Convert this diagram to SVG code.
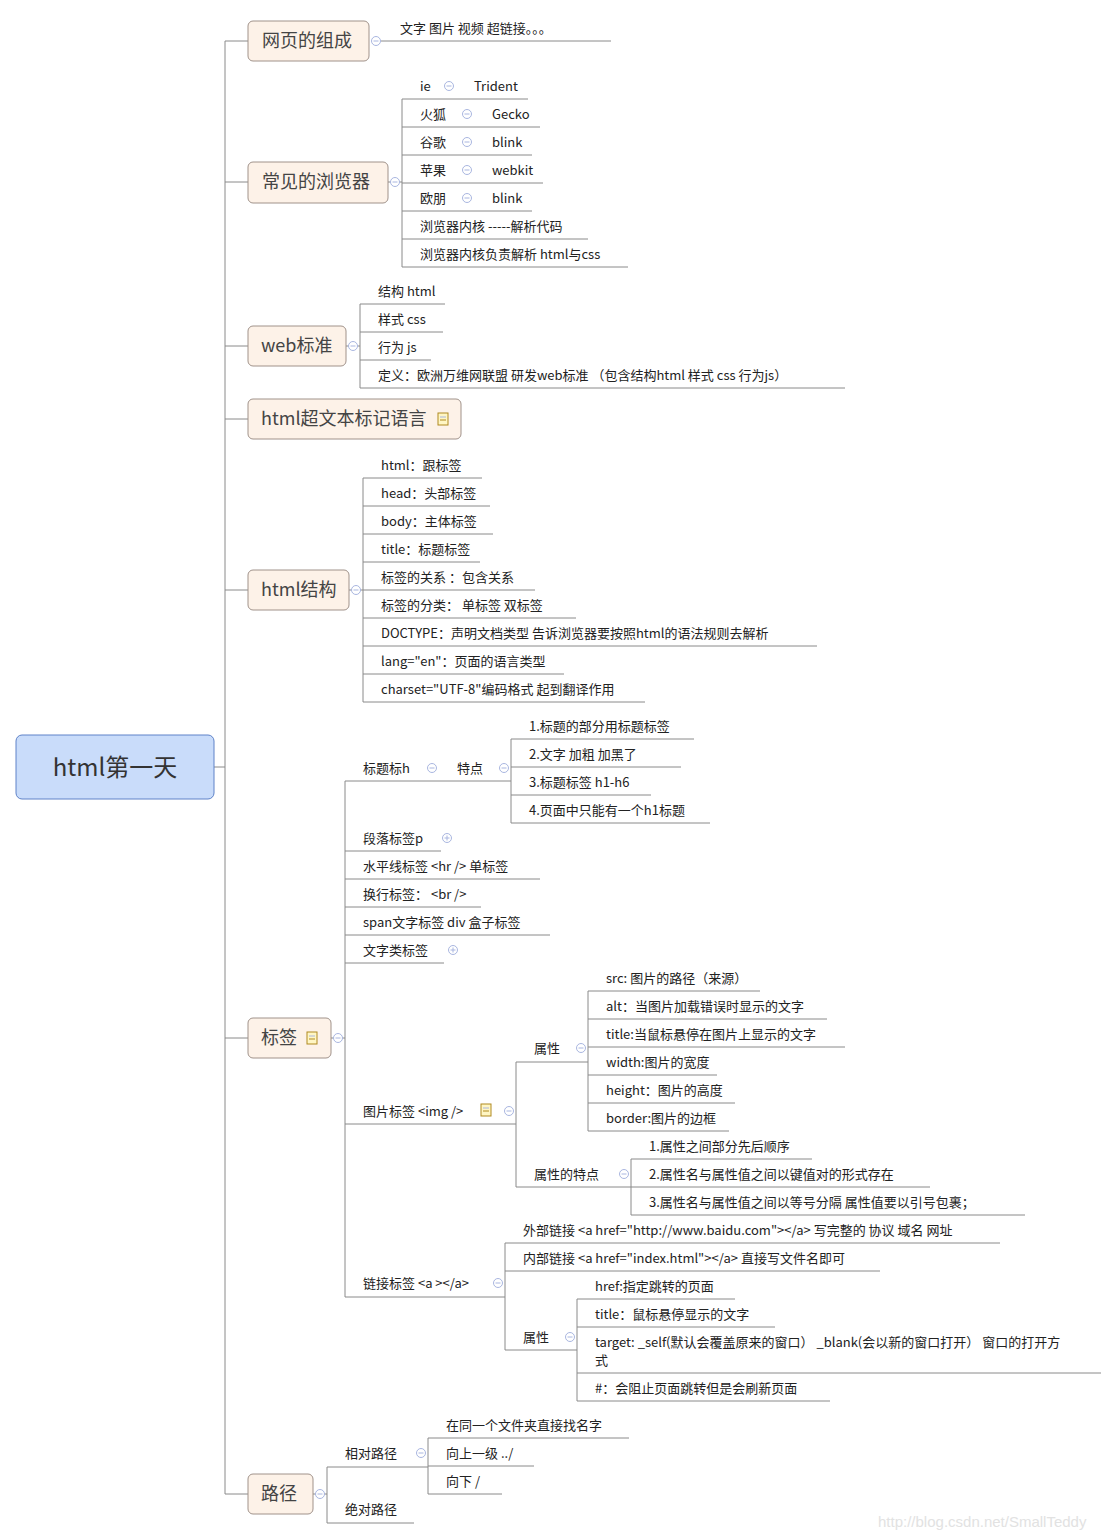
<svg xmlns="http://www.w3.org/2000/svg" width="1118" height="1538" viewBox="0 0 1118 1538">
<style>
text{font-family:"Noto Sans CJK SC","Liberation Sans",sans-serif;font-size:13px;fill:#222}
.m{font-size:18px;fill:#444}
.ln{stroke:#8a8a8a;stroke-width:1;fill:none}
.mn{fill:#fdf2e8;stroke:#a0928a;stroke-width:1}
.c{fill:#fff;stroke:#a9b6e0;stroke-width:1}
.cm{stroke:#a9b6e0;stroke-width:1}
.nt{fill:#fff6c4;stroke:#b08a20;stroke-width:1}
</style>
<defs>
<g id="col"><circle class="c" r="4.5"/><line class="cm" x1="-2.5" x2="2.5"/></g>
<g id="exp"><circle class="c" r="4.5"/><line class="cm" x1="-2.5" x2="2.5"/><line class="cm" y1="-2.5" y2="2.5"/></g>
<g id="note"><rect class="nt" x="-5" y="-6" width="10" height="12"/><line class="cm" x1="-3" x2="3" y1="-2" y2="-2" stroke="#b08a20"/><line x1="-3" x2="3" y1="1" y2="1" stroke="#b08a20"/></g>
</defs>
<g id="connectors" class="ln">
<path d="M214 767H225M225 41V1494M225 41H248M225 182H248M225 346H248M225 419H248M225 590H248M225 1038H248M225 1494H248"/>
<path d="M388 182H402M402 99V267"/>
<path d="M346 346H360M360 304V388"/>
<path d="M349 590H363M363 478V702"/>
<path d="M331 1038H345M345 781V1297"/>
<path d="M511 739V823"/>
<path d="M516 1062V1187M588 991V1131M631 1159V1215"/>
<path d="M505 1243V1350M577 1299V1401"/>
<path d="M313 1494H327M327 1467V1523M428 1438V1494"/>
</g>
<g id="root"><rect x="16" y="735" width="198" height="64" rx="6" fill="#c9dcfa" stroke="#5e82c8"/><text x="115" y="776" text-anchor="middle" style="font-size:24px;fill:#333">html第一天</text></g>
<g id="n1"><rect class="mn" x="248" y="21" width="121" height="40" rx="5"/><text class="m" x="262" y="47">网页的组成</text><use href="#col" x="376" y="41"/><path class="ln" d="M381 41H611"/><text x="400" y="33">文字   图片   视频   超链接。。。</text></g>
<g id="n2"><rect class="mn" x="248" y="162" width="140" height="41" rx="5"/><text class="m" x="262" y="188">常见的浏览器</text><use href="#col" x="395" y="182"/>
<path class="ln" d="M402 99H528M402 127H540M402 155H532M402 183H543M402 211H532M402 239H588M402 267H628"/>
<text x="420" y="91">ie</text><use href="#col" x="449" y="86"/><text x="474" y="91">Trident</text>
<text x="420" y="119">火狐</text><use href="#col" x="467" y="114"/><text x="492" y="119">Gecko</text>
<text x="420" y="147">谷歌</text><use href="#col" x="467" y="142"/><text x="492" y="147">blink</text>
<text x="420" y="175">苹果</text><use href="#col" x="467" y="170"/><text x="492" y="175">webkit</text>
<text x="420" y="203">欧朋</text><use href="#col" x="467" y="198"/><text x="492" y="203">blink</text>
<text x="420" y="231">浏览器内核  -----解析代码</text>
<text x="420" y="259">浏览器内核负责解析  html与css</text></g>
<g id="n3"><rect class="mn" x="248" y="326" width="98" height="40" rx="5"/><text class="m" x="261" y="352">web标准</text><use href="#col" x="353" y="346"/>
<path class="ln" d="M360 304H445M360 332H443M360 360H431M360 388H845"/>
<text x="378" y="296">结构  html</text><text x="378" y="324">样式  css</text><text x="378" y="352">行为  js</text><text x="378" y="380">定义：欧洲万维网联盟 研发web标准 （包含结构html  样式 css  行为js）</text></g>
<g id="n4"><rect class="mn" x="248" y="399" width="213" height="40" rx="5"/><text class="m" x="261" y="425">html超文本标记语言</text><use href="#note" x="443" y="419"/></g>
<g id="n5"><rect class="mn" x="248" y="570" width="101" height="40" rx="5"/><text class="m" x="261" y="596">html结构</text><use href="#col" x="356" y="590"/>
<path class="ln" d="M363 478H482M363 506H490M363 534H493M363 562H480M363 590H535M363 618H576M363 646H817M363 674H564M363 702H645"/>
<text x="381" y="470">html：跟标签</text><text x="381" y="498">head：头部标签</text><text x="381" y="526">body：主体标签</text><text x="381" y="554">title：标题标签</text><text x="381" y="582">标签的关系  ：包含关系</text><text x="381" y="610">标签的分类：  单标签   双标签</text><text x="381" y="638">DOCTYPE：声明文档类型   告诉浏览器要按照html的语法规则去解析</text><text x="381" y="666">lang="en"：页面的语言类型</text><text x="381" y="694">charset="UTF-8"编码格式    起到翻译作用</text></g>
<g id="n6"><rect class="mn" x="248" y="1018" width="83" height="40" rx="5"/><text class="m" x="261" y="1044">标签</text><use href="#note" x="312" y="1038"/><use href="#col" x="338" y="1038"/>
<path class="ln" d="M345 781H511M511 739H694M511 767H681M511 795H651M511 823H710M345 851H441M345 879H540M345 907H481M345 935H550M345 963H444M345 1124H516M516 1062H588M516 1187H631M588 991H760M588 1019H827M588 1047H845M588 1075H717M588 1103H735M588 1131H729M631 1159H812M631 1187H930M631 1215H1025M345 1297H505M505 1243H1000M505 1271H880M505 1350H577M577 1299H735M577 1327H775M577 1373H1101M577 1401H830"/>
<text x="363" y="773">标题标h</text><use href="#col" x="432" y="768"/><text x="457" y="773">特点</text><use href="#col" x="504" y="768"/>
<text x="529" y="731">1.标题的部分用标题标签</text><text x="529" y="759">2.文字  加粗  加黑了</text><text x="529" y="787">3.标题标签 h1-h6</text><text x="529" y="815">4.页面中只能有一个h1标题</text>
<text x="363" y="843">段落标签p</text><use href="#exp" x="447" y="838"/>
<text x="363" y="871">水平线标签   &lt;hr /&gt; 单标签</text><text x="363" y="899">换行标签：  &lt;br /&gt;</text><text x="363" y="927">span文字标签    div 盒子标签</text>
<text x="363" y="955">文字类标签</text><use href="#exp" x="453" y="950"/>
<text x="363" y="1116">图片标签   &lt;img /&gt;</text><use href="#note" x="486" y="1110"/><use href="#col" x="509" y="1111"/>
<text x="534" y="1053">属性</text><use href="#col" x="581" y="1048"/>
<text x="606" y="983">src: 图片的路径（来源）</text><text x="606" y="1011">alt：当图片加载错误时显示的文字</text><text x="606" y="1039">title:当鼠标悬停在图片上显示的文字</text><text x="606" y="1067">width:图片的宽度</text><text x="606" y="1095">height：图片的高度</text><text x="606" y="1123">border:图片的边框</text>
<text x="534" y="1179">属性的特点</text><use href="#col" x="624" y="1174"/>
<text x="649" y="1151">1.属性之间部分先后顺序</text><text x="649" y="1179">2.属性名与属性值之间以键值对的形式存在</text><text x="649" y="1207">3.属性名与属性值之间以等号分隔   属性值要以引号包裹；</text>
<text x="363" y="1288">链接标签   &lt;a &gt;&lt;/a&gt;</text><use href="#col" x="498" y="1283"/>
<text x="523" y="1235">外部链接   &lt;a  href="http://www.baidu.com"&gt;&lt;/a&gt;  写完整的 协议   域名    网址</text>
<text x="523" y="1263">内部链接  &lt;a  href="index.html"&gt;&lt;/a&gt;    直接写文件名即可</text>
<text x="523" y="1342">属性</text><use href="#col" x="570" y="1337"/>
<text x="595" y="1291">href:指定跳转的页面</text><text x="595" y="1319">title：鼠标悬停显示的文字</text><text x="595" y="1347">target:  _self(默认会覆盖原来的窗口）  _blank(会以新的窗口打开）   窗口的打开方</text><text x="595" y="1365">式</text><text x="595" y="1393">#：会阻止页面跳转但是会刷新页面</text></g>
<g id="n7"><rect class="mn" x="248" y="1474" width="65" height="40" rx="5"/><text class="m" x="261" y="1500">路径</text><use href="#col" x="320" y="1494"/>
<path class="ln" d="M327 1467H428M327 1523H414M428 1438H629M428 1466H534M428 1494H502"/>
<text x="345" y="1458">相对路径</text><use href="#col" x="421" y="1453"/><text x="345" y="1514">绝对路径</text>
<text x="446" y="1430">在同一个文件夹直接找名字</text><text x="446" y="1458">向上一级   ../</text><text x="446" y="1486">向下  /</text></g>
<text x="878" y="1527" style="font-size:15px;fill:#e2e2e2;font-family:'Liberation Sans',sans-serif">http://blog.csdn.net/SmallTeddy</text>
</svg>
